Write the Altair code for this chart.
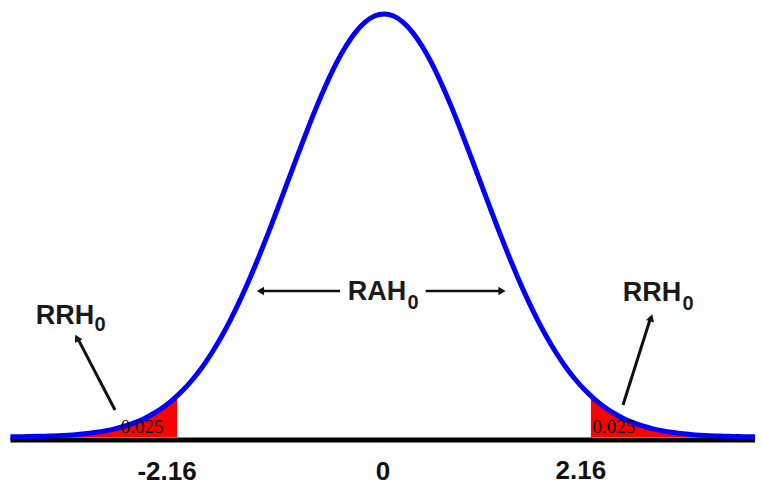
import altair as alt
import pandas as pd

# ---- data ----
curve_x = [-3.9,-3.8,-3.7,-3.6,-3.5,-3.4,-3.3,-3.2,-3.1,-3.0,-2.9,-2.8,-2.7,-2.6,-2.5,-2.4,-2.3,-2.2,-2.1,-2.0,
           -1.9,-1.8,-1.7,-1.6,-1.5,-1.4,-1.3,-1.2,-1.1,-1.0,-0.9,-0.8,-0.7,-0.6,-0.5,-0.4,-0.3,-0.2,-0.1,0.0,
           0.1,0.2,0.3,0.4,0.5,0.6,0.7,0.8,0.9,1.0,1.1,1.2,1.3,1.4,1.5,1.6,1.7,1.8,1.9,2.0,
           2.1,2.2,2.3,2.4,2.5,2.6,2.7,2.8,2.9,3.0,3.1,3.2,3.3,3.4,3.5,3.6,3.7,3.8,3.9]
curve_y = [0.0002,0.0003,0.0004,0.0006,0.0009,0.0012,0.0017,0.0024,0.0033,0.0044,0.0060,0.0079,0.0104,0.0136,
           0.0175,0.0224,0.0283,0.0355,0.0440,0.0540,0.0656,0.0790,0.0940,0.1109,0.1295,0.1497,0.1714,0.1942,
           0.2179,0.2420,0.2661,0.2897,0.3123,0.3332,0.3521,0.3683,0.3814,0.3910,0.3970,0.3989,0.3970,0.3910,
           0.3814,0.3683,0.3521,0.3332,0.3123,0.2897,0.2661,0.2420,0.2179,0.1942,0.1714,0.1497,0.1295,0.1109,
           0.0940,0.0790,0.0656,0.0540,0.0440,0.0355,0.0283,0.0224,0.0175,0.0136,0.0104,0.0079,0.0060,0.0044,
           0.0033,0.0024,0.0017,0.0012,0.0009,0.0006,0.0004,0.0003,0.0002]

left_tail_x = [-3.3,-3.2,-3.1,-3.0,-2.9,-2.8,-2.7,-2.6,-2.5,-2.4,-2.3,-2.2,-2.16]
left_tail_y = [0.0017,0.0024,0.0033,0.0044,0.0060,0.0079,0.0104,0.0136,0.0175,0.0224,0.0283,0.0355,0.0387]
right_tail_x = [2.16,2.2,2.3,2.4,2.5,2.6,2.7,2.8,2.9,3.0,3.1,3.2,3.3]
right_tail_y = [0.0387,0.0355,0.0283,0.0224,0.0175,0.0136,0.0104,0.0079,0.0060,0.0044,0.0033,0.0024,0.0017]

tick_values = [-2.16, 0, 2.16]
tick_labels = ["-2.16", "0", "2.16"]
tail_area_label = "0.025"

X_DOMAIN = [-3.925, 3.873]
Y_DOMAIN = [-0.04527, 0.40457]

xs = alt.Scale(domain=X_DOMAIN, nice=False, zero=False)
ys = alt.Scale(domain=Y_DOMAIN, nice=False, zero=False)

X = lambda f="x:Q": alt.X(f, scale=xs, axis=None)
Y = lambda f="y:Q": alt.Y(f, scale=ys, axis=None)

curve_df = pd.DataFrame({"x": curve_x, "y": curve_y})
tails_df = pd.DataFrame({
    "x": left_tail_x + right_tail_x,
    "y": left_tail_y + right_tail_y,
    "side": ["L"] * len(left_tail_x) + ["R"] * len(right_tail_x),
})

# red tails
tails = alt.Chart(tails_df).mark_area(color="#FF0000", interpolate="monotone").encode(
    x=X(), y=Y(), y2=alt.datum(0), detail="side:N",
)

# baseline
base_df = pd.DataFrame({"x": [-3.90], "x2": [3.873], "y": [-0.0028]})
baseline = alt.Chart(base_df).mark_rule(color="black", strokeWidth=5).encode(
    x=X(), x2="x2:Q", y=Y()
)

# blue curve
curve = alt.Chart(curve_df).mark_line(color="#0000FF", strokeWidth=5, interpolate="monotone", clip=True).encode(
    x=X(), y=Y()
)

# tick labels under the baseline (positioned at their tick values)
tick_df = pd.DataFrame({"x": tick_values, "t": tick_labels})
label_shift = {"-2.16": (-10, 0), "0": (-1, 0), "2.16": (-10, -1)}
tick_layers = []
for lab in tick_labels:
    dx, dy = label_shift[lab]
    tick_layers.append(
        alt.Chart(tick_df[tick_df.t == lab]).mark_text(
            font="Liberation Sans", fontWeight="bold", fontSize=26, color="#111111",
            baseline="middle", align="center", dx=dx, dy=dy,
        ).encode(x=X(), y=alt.datum(-0.0330, scale=ys), text="t:N")
    )

# small "0.025" labels
small_df = pd.DataFrame({"x": [-2.526, 2.401], "y": [0.0094, 0.0094], "t": [tail_area_label] * 2})
small = alt.Chart(small_df).mark_text(font="Liberation Serif", fontSize=19, color="#000000",
                                      baseline="middle", align="center").encode(
    x=X(), y=Y(), text="t:N"
)

# big region labels
big_df = pd.DataFrame({"x": [-3.330, 2.797, -0.073], "y": [0.1141, 0.1358, 0.1367],
                       "t": ["RRH", "RRH", "RAH"]})
big = alt.Chart(big_df).mark_text(font="Liberation Sans", fontWeight="bold", fontSize=27, color="#1a1a1a",
                                  baseline="middle", align="center").encode(
    x=X(), y=Y(), text="t:N"
)
sub_df = pd.DataFrame({"x": [-2.965, 3.174, 0.303], "y": [0.1056, 0.1254, 0.1264], "t": ["0", "0", "0"]})
sub = alt.Chart(sub_df).mark_text(font="Liberation Sans", fontWeight="bold", fontSize=20, color="#1a1a1a",
                                  baseline="middle", align="center").encode(
    x=X(), y=Y(), text="t:N"
)

# arrow shafts
shaft_df = pd.DataFrame({
    "x": [-1.300, 0.435, -2.808, 2.495],
    "x2": [-0.459, 1.220, -3.195, 2.785],
    "y": [0.1377, 0.1377, 0.0255, 0.0302],
    "y2": [0.1377, 0.1377, 0.0925, 0.1130],
    "w": [2.5, 2.5, 3, 3],
})
shafts = alt.Chart(shaft_df).mark_rule(color="#111111").encode(
    x=X(), x2="x2:Q", y=Y(), y2="y2:Q",
    strokeWidth=alt.StrokeWidth("w:Q", scale=None, legend=None),
)

# arrow heads
head_df = pd.DataFrame({
    "x": [-1.290, 1.232, -3.205, 2.789],
    "y": [0.1377, 0.1377, 0.0935, 0.1125],
    "a": [270, 90, 332.5, 17.5],
})
heads = alt.Chart(head_df).mark_point(shape="triangle-up", filled=True, color="#111111", opacity=1,
                                      size=70).encode(
    x=X(), y=Y(), angle=alt.Angle("a:Q", scale=None),
)

chart = alt.layer(tails, baseline, curve, small, shafts, heads, big, sub, *tick_layers).properties(
    width=747, height=477, padding=0, background="white",
    autosize=alt.AutoSizeParams(type="none"),
).configure_view(stroke=None)

chart.save("out.html", embed_options={"renderer": "svg", "actions": False})
